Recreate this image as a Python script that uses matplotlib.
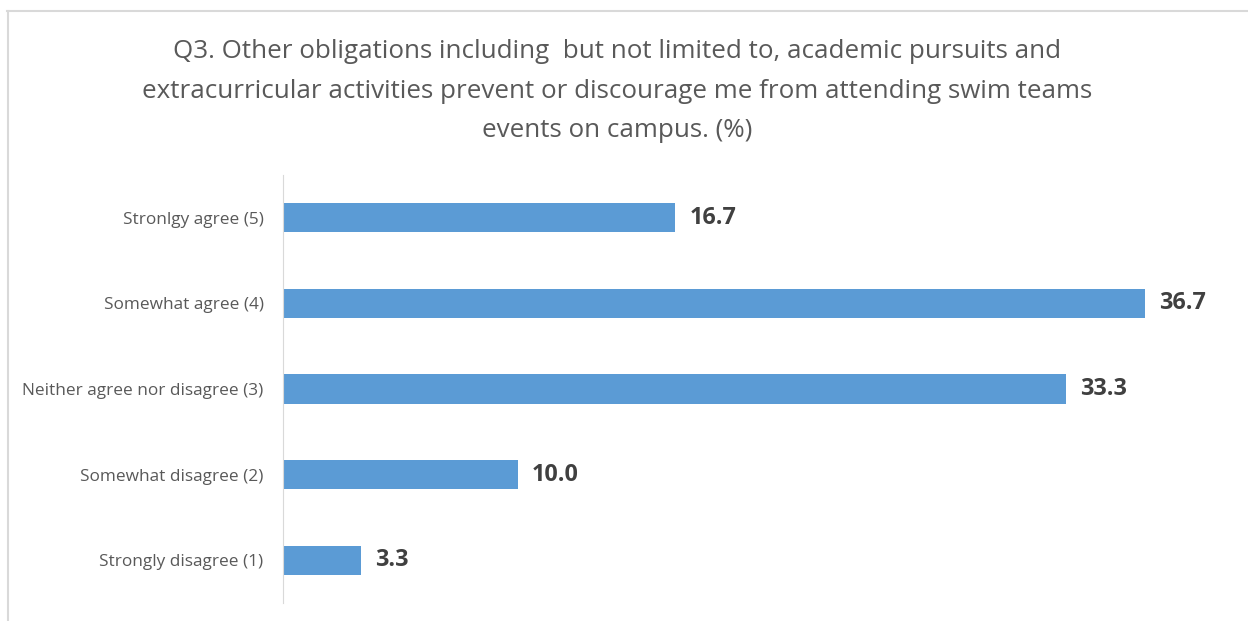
import matplotlib
matplotlib.use("Agg")
import matplotlib.pyplot as plt
from matplotlib.lines import Line2D

categories = ["Strongly disagree (1)", "Somewhat disagree (2)",
              "Neither agree nor disagree (3)", "Somewhat agree (4)",
              "Stronlgy agree (5)"]
values = [3.3, 10.0, 33.3, 36.7, 16.7]
title = ("Q3. Other obligations including  but not limited to, academic pursuits and\n"
         "extracurricular activities prevent or discourage me from attending swim teams\n"
         "events on campus. (%)")

plt.rcParams['font.family'] = ['Open Sans', 'DejaVu Sans']

fig = plt.figure(figsize=(12.48, 6.21), dpi=100)
ax = fig.add_axes([283 / 1248, 1 - 603 / 621, 947 / 1248, 428 / 621])

y = range(len(categories))
ax.barh(y, values, height=0.34, color='#5B9BD5')
for yi, v in zip(y, values):
    ax.text(v + 0.6, yi, f"{v:.1f}", va='center', ha='left',
            fontsize=16.8, fontweight='bold', color='#404040')

ax.set_yticks(list(y))
ax.set_yticklabels(categories, fontsize=12.4, color='#595959')
ax.set_ylim(-0.5, 4.5)
ax.set_xlim(0, 40.3)
ax.set_xticks([])
ax.tick_params(axis='y', length=0, pad=14)
for s in ['top', 'right', 'bottom']:
    ax.spines[s].set_visible(False)
ax.spines['left'].set_color('#D9D9D9')

fig.text(617 / 1248, 1 - 91 / 621, title, ha='center', va='center',
         fontsize=18.7, color='#595959', linespacing=1.76)

# chart frame (top and left edges visible)
fig.add_artist(Line2D([7 / 1248, 1], [1 - 11 / 621, 1 - 11 / 621],
                      color='#D9D9D9', lw=1.5, transform=fig.transFigure))
fig.add_artist(Line2D([8 / 1248, 8 / 1248], [0, 1 - 11 / 621],
                      color='#D9D9D9', lw=1.5, transform=fig.transFigure))

fig.savefig("out.png", dpi=100)
